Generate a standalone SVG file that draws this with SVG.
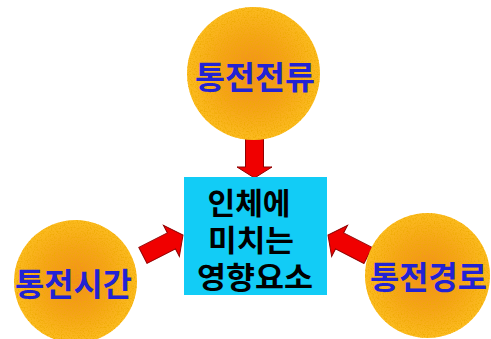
<svg xmlns="http://www.w3.org/2000/svg" width="491" height="339" viewBox="0 0 491 339">
<style>
.circ{fill:url(#og)}
.lbl{font-family:"Noto Sans CJK KR","Noto Sans",sans-serif;font-weight:bold;font-size:32px;fill:#2222d4;text-anchor:middle}
.ctr{font-family:"Noto Sans CJK KR","Noto Sans",sans-serif;font-weight:bold;font-size:30px;fill:#000;text-anchor:middle}
.arr{fill:#f00000;stroke:#900000;stroke-width:1}
</style>
<defs>
<radialGradient id="og" cx="0.5" cy="0.5" r="0.5">
<stop offset="0" stop-color="#f28c1c"/>
<stop offset="0.55" stop-color="#f6a41a"/>
<stop offset="1" stop-color="#fcbc20"/>
</radialGradient>
<filter id="noise" x="0" y="0" width="100%" height="100%">
<feTurbulence type="fractalNoise" baseFrequency="0.7" numOctaves="2" seed="3" result="n"/>
<feColorMatrix in="n" type="matrix" values="0 0 0 0 0.85  0 0 0 0 0.4  0 0 0 0 0  0 0 0 2.4 -1.05" result="c"/>
<feComposite in="c" in2="SourceGraphic" operator="in"/>
</filter>
<polygon id="arrowR" points="-45,-9 -13,-9 -13,-17.5 0,0 -13,17.5 -13,9 -45,9"/>
</defs>
<rect width="491" height="339" fill="#fff"/>
<g id="connectors">
<polygon class="arr" points="-39,-9 -11,-9 -11,-17.5 0,0 -11,17.5 -11,9 -39,9" transform="translate(254.5,178) rotate(90)"/>
<use href="#arrowR" class="arr" transform="translate(183,235) rotate(-27)"/>
<use href="#arrowR" class="arr" transform="translate(328,235) rotate(-153)"/>
</g>
<g id="node-current">
<circle class="circ" cx="253.5" cy="73.5" r="66.5"/>
<circle cx="253.5" cy="73.5" r="66.5" fill="#fff" filter="url(#noise)"/>
<text class="lbl" x="255" y="89" textLength="120" lengthAdjust="spacingAndGlyphs">통전전류</text>
</g>
<g id="node-time">
<circle class="circ" cx="75.5" cy="281.5" r="61.5"/>
<circle cx="75.5" cy="281.5" r="61.5" fill="#fff" filter="url(#noise)"/>
<text class="lbl" x="73.5" y="296" textLength="117" lengthAdjust="spacingAndGlyphs">통전시간</text>
</g>
<g id="node-path">
<circle class="circ" cx="427.5" cy="275.5" r="62.5"/>
<circle cx="427.5" cy="275.5" r="62.5" fill="#fff" filter="url(#noise)"/>
<text class="lbl" x="428.5" y="289" textLength="117" lengthAdjust="spacingAndGlyphs">통전경로</text>
</g>
<g id="node-center">
<rect x="184" y="177" width="143" height="118" fill="#12ccf6"/>
<text class="ctr" x="249" y="214" textLength="83" lengthAdjust="spacingAndGlyphs">인체에</text>
<text class="ctr" x="251" y="251" textLength="86" lengthAdjust="spacingAndGlyphs">미치는</text>
<text class="ctr" x="255" y="288" textLength="116" lengthAdjust="spacingAndGlyphs">영향요소</text>
</g>
</svg>
